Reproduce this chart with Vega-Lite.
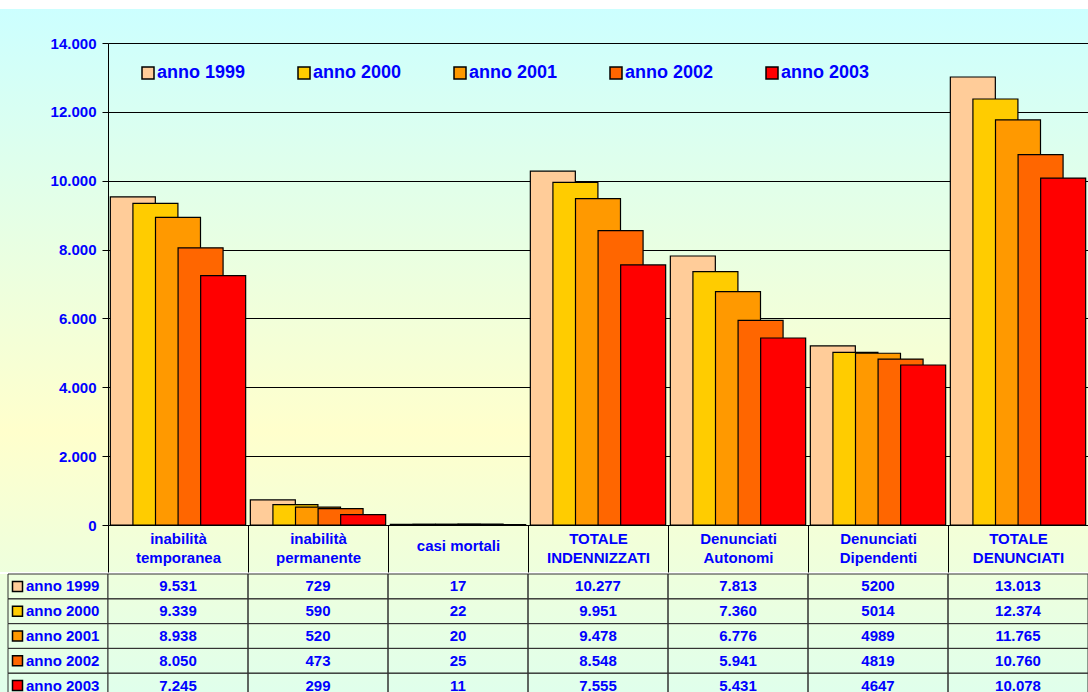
{
  "$schema": "https://vega.github.io/schema/vega-lite/v6.json",
  "background": "white",
  "padding": {"top": 9, "left": 0, "right": 0, "bottom": 0},
  "spacing": 0,
  "resolve": {"scale": {"color": "independent"}, "legend": {"color": "independent"}},
  "config": {
    "font": "Liberation Sans",
    "view": {"stroke": null},
    "text": {"font": "Liberation Sans", "fontWeight": "bold", "fontSize": 15, "color": "#0000ff"}
  },
  "datasets": {
    "d": [
      {"cat": "inabilità temporanea", "anno": "anno 1999", "value": 9531, "label": "9.531"},
      {"cat": "inabilità temporanea", "anno": "anno 2000", "value": 9339, "label": "9.339"},
      {"cat": "inabilità temporanea", "anno": "anno 2001", "value": 8938, "label": "8.938"},
      {"cat": "inabilità temporanea", "anno": "anno 2002", "value": 8050, "label": "8.050"},
      {"cat": "inabilità temporanea", "anno": "anno 2003", "value": 7245, "label": "7.245"},
      {"cat": "inabilità permanente", "anno": "anno 1999", "value": 729, "label": "729"},
      {"cat": "inabilità permanente", "anno": "anno 2000", "value": 590, "label": "590"},
      {"cat": "inabilità permanente", "anno": "anno 2001", "value": 520, "label": "520"},
      {"cat": "inabilità permanente", "anno": "anno 2002", "value": 473, "label": "473"},
      {"cat": "inabilità permanente", "anno": "anno 2003", "value": 299, "label": "299"},
      {"cat": "casi mortali", "anno": "anno 1999", "value": 17, "label": "17"},
      {"cat": "casi mortali", "anno": "anno 2000", "value": 22, "label": "22"},
      {"cat": "casi mortali", "anno": "anno 2001", "value": 20, "label": "20"},
      {"cat": "casi mortali", "anno": "anno 2002", "value": 25, "label": "25"},
      {"cat": "casi mortali", "anno": "anno 2003", "value": 11, "label": "11"},
      {"cat": "TOTALE INDENNIZZATI", "anno": "anno 1999", "value": 10277, "label": "10.277"},
      {"cat": "TOTALE INDENNIZZATI", "anno": "anno 2000", "value": 9951, "label": "9.951"},
      {"cat": "TOTALE INDENNIZZATI", "anno": "anno 2001", "value": 9478, "label": "9.478"},
      {"cat": "TOTALE INDENNIZZATI", "anno": "anno 2002", "value": 8548, "label": "8.548"},
      {"cat": "TOTALE INDENNIZZATI", "anno": "anno 2003", "value": 7555, "label": "7.555"},
      {"cat": "Denunciati Autonomi", "anno": "anno 1999", "value": 7813, "label": "7.813"},
      {"cat": "Denunciati Autonomi", "anno": "anno 2000", "value": 7360, "label": "7.360"},
      {"cat": "Denunciati Autonomi", "anno": "anno 2001", "value": 6776, "label": "6.776"},
      {"cat": "Denunciati Autonomi", "anno": "anno 2002", "value": 5941, "label": "5.941"},
      {"cat": "Denunciati Autonomi", "anno": "anno 2003", "value": 5431, "label": "5.431"},
      {"cat": "Denunciati Dipendenti", "anno": "anno 1999", "value": 5200, "label": "5200"},
      {"cat": "Denunciati Dipendenti", "anno": "anno 2000", "value": 5014, "label": "5014"},
      {"cat": "Denunciati Dipendenti", "anno": "anno 2001", "value": 4989, "label": "4989"},
      {"cat": "Denunciati Dipendenti", "anno": "anno 2002", "value": 4819, "label": "4819"},
      {"cat": "Denunciati Dipendenti", "anno": "anno 2003", "value": 4647, "label": "4647"},
      {"cat": "TOTALE DENUNCIATI", "anno": "anno 1999", "value": 13013, "label": "13.013"},
      {"cat": "TOTALE DENUNCIATI", "anno": "anno 2000", "value": 12374, "label": "12.374"},
      {"cat": "TOTALE DENUNCIATI", "anno": "anno 2001", "value": 11765, "label": "11.765"},
      {"cat": "TOTALE DENUNCIATI", "anno": "anno 2002", "value": 10760, "label": "10.760"},
      {"cat": "TOTALE DENUNCIATI", "anno": "anno 2003", "value": 10078, "label": "10.078"}
    ],
    "years": [
      {"anno": "anno 1999"},
      {"anno": "anno 2000"},
      {"anno": "anno 2001"},
      {"anno": "anno 2002"},
      {"anno": "anno 2003"}
    ]
  },
  "vconcat": [
    {
      "bounds": "flush",
      "spacing": 0,
      "resolve": {"scale": {"color": "independent"}, "legend": {"color": "independent"}},
      "hconcat": [
        {
          "width": 108,
          "height": 563,
          "view": {"stroke": null, "fill": {"gradient": "linear", "x1": 0, "y1": 0, "x2": 0, "y2": 1, "stops": [{"offset": 0, "color": "#ccffff"}, {"offset": 0.75, "color": "#ffffcc"}, {"offset": 1, "color": "#eeffdd"}]}},
          "data": {"values": [{}]},
          "mark": {"type": "text", "text": ""}
        },
        {
          "width": 980,
          "height": 563,
          "view": {"stroke": null, "fill": {"gradient": "linear", "x1": 0, "y1": 0, "x2": 0, "y2": 1, "stops": [{"offset": 0, "color": "#ccffff"}, {"offset": 0.75, "color": "#ffffcc"}, {"offset": 1, "color": "#eeffdd"}]}},
          "data": {"name": "d"},
          "mark": {"type": "bar", "width": 45, "stroke": "#000000", "strokeWidth": 1.2},
          "encoding": {
            "x": {
              "field": "cat", "type": "nominal", "sort": null,
              "scale": {"paddingInner": 0, "paddingOuter": 0},
              "axis": {
                "title": null, "labelAngle": 0, "offset": -47,
                "domainColor": "#000000", "domainWidth": 1,
                "ticks": true, "tickBand": "extent", "tickSize": 47, "tickColor": "#000000", "tickWidth": 1,
                "labelPadding": -33.5,
                "labelBaseline": {"condition": {"test": "datum.label == 'casi mortali'", "value": "top"}, "value": "middle"},
                "labelLineHeight": 19,
                "labelFont": "Liberation Sans", "labelFontSize": 15, "labelFontWeight": "bold", "labelColor": "#0000ff",
                "labelOverlap": false, "labelLimit": 200,
                "labelExpr": "datum.label == 'casi mortali' ? datum.label : split(datum.label, ' ')",
                "grid": false
              }
            },
            "xOffset": {"field": "anno", "type": "nominal", "sort": null, "scale": {"paddingInner": 0, "paddingOuter": 0.6}},
            "y": {
              "field": "value", "type": "quantitative",
              "scale": {"domain": [0, 14000], "range": [516, 34], "nice": false},
              "axis": {
                "title": null, "values": [0, 2000, 4000, 6000, 8000, 10000, 12000, 14000],
                "labelExpr": "replace(format(datum.value, ','), ',', '.')",
                "labelFont": "Liberation Sans", "labelFontSize": 15, "labelFontWeight": "bold", "labelColor": "#0000ff",
                "tickSize": 6, "labelPadding": 6, "tickColor": "#000000", "domainColor": "#000000",
                "grid": true, "gridColor": "#000000", "gridWidth": 1
              }
            },
            "color": {
              "field": "anno", "type": "nominal", "sort": null,
              "scale": {"domain": ["anno 1999", "anno 2000", "anno 2001", "anno 2002", "anno 2003"], "range": ["#ffcc99", "#ffcc00", "#ff9900", "#ff6600", "#ff0000"]},
              "legend": {
                "orient": "none", "legendX": 31, "legendY": 55, "direction": "horizontal", "columns": 5,
                "title": null, "symbolType": "square", "symbolSize": 144, "symbolStrokeColor": "#000000", "symbolStrokeWidth": 1.5,
                "symbolOpacity": 1, "symbolFillOpacity": 1,
                "labelFont": "Liberation Sans", "labelFontSize": 18, "labelFontWeight": "bold", "labelColor": "#0000ff",
                "labelOffset": 0, "columnPadding": 49, "padding": 0
              }
            }
          }
        }
      ]
    },
    {
      "bounds": "flush",
      "spacing": 0,
      "resolve": {"scale": {"color": "independent"}, "legend": {"color": "independent"}},
      "hconcat": [
        {
          "width": 108,
          "height": 124,
          "view": {"stroke": null, "fill": {"gradient": "linear", "x1": 0, "y1": 0, "x2": 0, "y2": 1, "stops": [{"offset": 0, "color": "#eeffdd"}, {"offset": 1, "color": "#dfffec"}]}},
          "data": {"name": "years"},
          "layer": [
            {
              "mark": {"type": "rect", "fill": "transparent", "stroke": "#333333", "strokeWidth": 1},
              "encoding": {
                "x": {"datum": "leg", "type": "nominal", "scale": {"range": [8, 108], "paddingInner": 0, "paddingOuter": 0}, "axis": null},
                "y": {"field": "anno", "type": "nominal", "sort": null, "scale": {"paddingInner": 0, "paddingOuter": 0}, "axis": null}
              }
            },
            {
              "mark": {"type": "point", "shape": "square", "size": 100, "filled": true, "opacity": 1, "stroke": "#000000", "strokeWidth": 1.5},
              "encoding": {
                "x": {"datum": "leg", "type": "nominal", "bandPosition": 0.095},
                "y": {"field": "anno", "type": "nominal", "sort": null},
                "color": {
                  "field": "anno", "type": "nominal", "sort": null,
                  "scale": {"domain": ["anno 1999", "anno 2000", "anno 2001", "anno 2002", "anno 2003"], "range": ["#ffcc99", "#ffcc00", "#ff9900", "#ff6600", "#ff0000"]},
                  "legend": null
                }
              }
            },
            {
              "mark": {"type": "text", "align": "left", "baseline": "middle"},
              "encoding": {
                "x": {"datum": "leg", "type": "nominal", "bandPosition": 0.18},
                "y": {"field": "anno", "type": "nominal", "sort": null},
                "text": {"field": "anno"}
              }
            }
          ]
        },
        {
          "width": 980,
          "height": 124,
          "view": {"stroke": null, "fill": {"gradient": "linear", "x1": 0, "y1": 0, "x2": 0, "y2": 1, "stops": [{"offset": 0, "color": "#eeffdd"}, {"offset": 1, "color": "#dfffec"}]}},
          "data": {"name": "d"},
          "layer": [
            {
              "mark": {"type": "rect", "fill": "transparent", "stroke": "#333333", "strokeWidth": 1},
              "encoding": {
                "x": {"field": "cat", "type": "nominal", "sort": null, "scale": {"paddingInner": 0, "paddingOuter": 0}, "axis": null},
                "y": {"field": "anno", "type": "nominal", "sort": null, "scale": {"paddingInner": 0, "paddingOuter": 0}, "axis": null}
              }
            },
            {
              "mark": {"type": "text", "align": "center", "baseline": "middle"},
              "encoding": {
                "x": {"field": "cat", "type": "nominal", "sort": null},
                "y": {"field": "anno", "type": "nominal", "sort": null},
                "text": {"field": "label"}
              }
            }
          ]
        }
      ]
    }
  ]
}
